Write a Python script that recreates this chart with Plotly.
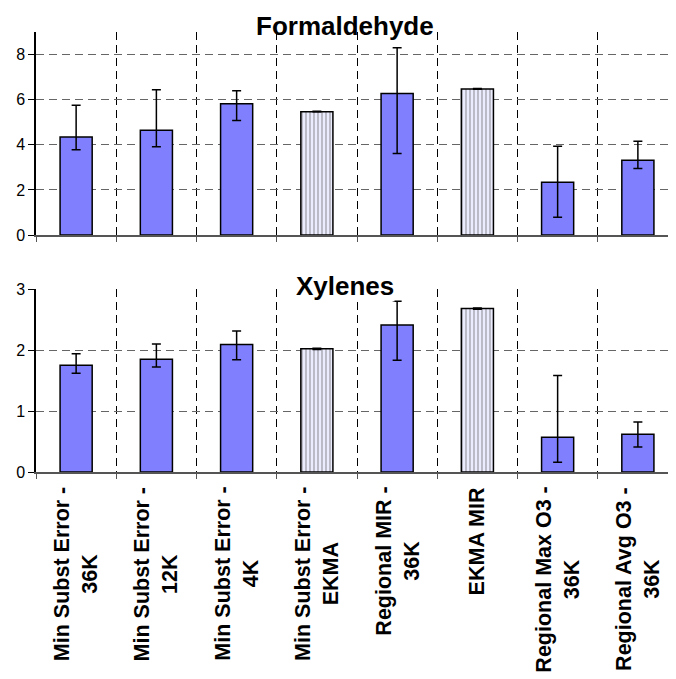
import plotly.graph_objects as go
from plotly.subplots import make_subplots

categories = ["Min Subst Error -<br>36K", "Min Subst Error -<br>12K", "Min Subst Error -<br>4K",
              "Min Subst Error -<br>EKMA", "Regional MIR -<br>36K", "EKMA MIR",
              "Regional Max O3 -<br>36K", "Regional Avg O3 -<br>36K"]
hatched = [False, False, False, True, False, True, False, False]

form_values = [4.34, 4.64, 5.82, 5.47, 6.27, 6.47, 2.34, 3.32]
form_upper = [5.75, 6.44, 6.40, 5.49, 8.30, 6.49, 3.94, 4.16]
form_lower = [3.78, 3.91, 5.08, 5.46, 3.61, 6.46, 0.79, 2.95]

xyl_values = [1.75, 1.85, 2.09, 2.02, 2.41, 2.68, 0.57, 0.62]
xyl_upper = [1.94, 2.10, 2.31, 2.03, 2.80, 2.69, 1.58, 0.82]
xyl_lower = [1.62, 1.72, 1.84, 2.01, 1.83, 2.67, 0.16, 0.41]

titles = ["Formaldehyde", "Xylenes"]

FONT = "Liberation Sans, Arial, sans-serif"
SOLID = "#8080FF"

fig = make_subplots(rows=2, cols=1, shared_xaxes=False, vertical_spacing=0.12)

def add_panel(row, vals, up, lo):
    fig.add_trace(go.Bar(
        x=categories, y=vals, width=0.4,
        marker=dict(
            color=[("#ECECFF" if h else SOLID) for h in hatched],
            line=dict(color="black", width=1.5),
            pattern=dict(shape=[("|" if h else "") for h in hatched],
                         fgcolor="#BDBDFF", bgcolor="#EEEEFF", size=4, solidity=0.3),
        ),
        error_y=dict(type="data", symmetric=False,
                     array=[u - v for u, v in zip(up, vals)],
                     arrayminus=[v - l for v, l in zip(vals, lo)],
                     color="black", thickness=1.5, width=4.5),
        showlegend=False,
    ), row=row, col=1)

add_panel(1, form_values, form_upper, form_lower)
add_panel(2, xyl_values, xyl_upper, xyl_lower)

xcommon = dict(tickson="boundaries", range=[-0.5, 7.5], showgrid=True,
               gridcolor="black", griddash="8px,5px", gridwidth=1,
               showline=True, linecolor="#555555", linewidth=1.5,
               ticks="outside", ticklen=5, tickcolor="#555555",
               showticklabels=False, automargin=False)
ycommon = dict(showgrid=True, gridcolor="#666666", griddash="8px,5px", gridwidth=1,
               showline=True, linecolor="black", linewidth=1.5, zeroline=False,
               ticks="outside", ticklen=6, tickcolor="black", automargin=False,
               tickfont=dict(family=FONT, size=16, color="black"))

fig.update_xaxes(**xcommon)
fig.update_xaxes(domain=[0, 1])
fig.update_yaxes(**ycommon)
fig.update_yaxes(range=[0, 9], dtick=2, domain=[0.5386, 1.0], row=1, col=1)
fig.update_yaxes(range=[0, 3], dtick=1, domain=[0.0, 0.4159], row=2, col=1)

# category labels below the lower panel, rotated, lines centred
for c in categories:
    fig.add_annotation(text=c, xref="x2", yref="paper", x=c, y=0, yshift=-13,
                       xanchor="center", yanchor="top", textangle=-90, align="center",
                       showarrow=False,
                       font=dict(family=FONT, size=21.5, color="black", weight="bold"))

fig.add_annotation(text="<b>" + titles[0] + "</b>", xref="paper", yref="paper",
                   x=0.481, y=1.0, yshift=6, yanchor="middle", showarrow=False,
                   font=dict(family=FONT, size=26, color="black"))
fig.add_annotation(text="<b>" + titles[1] + "</b>", xref="paper", yref="paper",
                   x=0.481, y=0.4159, yshift=3, yanchor="middle", showarrow=False,
                   bgcolor="white", borderpad=0,
                   font=dict(family=FONT, size=26, color="black"))

fig.update_layout(width=676, height=679, margin=dict(l=28, r=6, t=24, b=215),
                  plot_bgcolor="white", paper_bgcolor="white", bargap=0.6)

fig.write_html("out.html")
